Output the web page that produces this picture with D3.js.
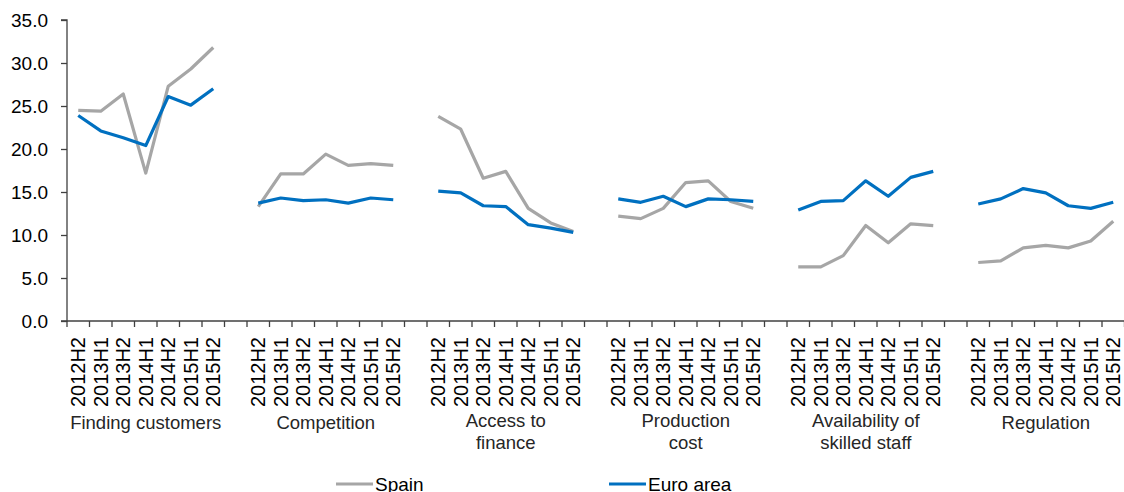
<!DOCTYPE html>
<html>
<head>
<meta charset="utf-8">
<script src="https://cdn.jsdelivr.net/npm/d3@7"></script>
<style>
  body { margin: 0; background: #fff; }
  svg { display: block; font-family: "Liberation Sans", Arial, sans-serif; }
  .axis path, .axis line { stroke: #404040; }
  .axis text { fill: #000; }
</style>
</head>
<body>
<div id="chart"></div>
<script>
// data
var categories = [
    ["Finding customers"],
    ["Competition"],
    ["Access to", "finance"],
    ["Production", "cost"],
    ["Availability of", "skilled staff"],
    ["Regulation"]
];
var periods = ["2012H2", "2013H1", "2013H2", "2014H1", "2014H2", "2015H1", "2015H2"];
var yTicks = [0, 5, 10, 15, 20, 25, 30, 35];

var spain = [
    [24.5, 24.4, 26.4, 17.2, 27.3, 29.3, 31.8],
    [13.3, 17.1, 17.1, 19.4, 18.1, 18.3, 18.1],
    [23.8, 22.3, 16.6, 17.4, 13.1, 11.4, 10.4],
    [12.2, 11.9, 13.1, 16.1, 16.3, 13.9, 13.1],
    [6.3, 6.3, 7.6, 11.1, 9.1, 11.3, 11.1],
    [6.8, 7.0, 8.5, 8.8, 8.5, 9.3, 11.6]
];
var euroArea = [
    [23.9, 22.1, 21.3, 20.4, 26.1, 25.1, 27.0],
    [13.7, 14.3, 14.0, 14.1, 13.7, 14.3, 14.1],
    [15.1, 14.9, 13.4, 13.3, 11.2, 10.8, 10.3],
    [14.2, 13.8, 14.5, 13.3, 14.2, 14.1, 13.9],
    [12.9, 13.9, 14.0, 16.3, 14.5, 16.7, 17.4],
    [13.6, 14.2, 15.4, 14.9, 13.4, 13.1, 13.8]
];

var series = [
    { name: "Spain", color: "#a6a6a6", values: spain },
    { name: "Euro area", color: "#0070c0", values: euroArea }
];

// size of the svg
var W = 1124, H = 492;
var plotLeft = 67, plotTop = 20, plotBottom = 321;
var slotsPerGroup = periods.length + 1;     // one empty slot between groups
var nSlots = categories.length * slotsPerGroup - 1;

var svg = d3.select('#chart')
    .append('svg')
    .attr('width', W)
    .attr('height', H);

var xScale = d3.scaleLinear()
    .domain([0, nSlots])
    .range([plotLeft, plotLeft + 22.5 * nSlots]);

var yScale = d3.scaleLinear()
    .domain([0, 35])
    .range([plotBottom, plotTop]);

function slotCenter(g, i) {
    return xScale(g * slotsPerGroup + i + 0.5);
}

// y axis
var yAxis = d3.axisLeft(yScale)
    .tickValues(yTicks)
    .tickFormat(d3.format(".1f"))
    .tickSize(6)
    .tickPadding(13);

svg.append('g')
    .attr('class', 'axis')
    .attr('transform', `translate(${plotLeft},0)`)
    .call(yAxis)
    .call(function (g) {
        g.select('.domain').attr('d', `M-6,${plotTop}H0V${plotBottom}H-6`).attr('stroke-width', 1.3);
        g.selectAll('line').attr('stroke-width', 1.3);
        g.selectAll('text').attr('font-size', 19).attr('font-family', '"Liberation Sans", Arial, sans-serif');
    });

// x axis: line and ticks between categories
var xg = svg.append('g').attr('class', 'axis');
xg.append('line')
    .attr('x1', plotLeft).attr('x2', W)
    .attr('y1', plotBottom).attr('y2', plotBottom)
    .attr('stroke-width', 1.3);

xg.selectAll('line.tick')
    .data(d3.range(0, nSlots + 1))
    .enter()
    .append('line')
    .attr('class', 'tick')
    .attr('x1', function (d) { return xScale(d); })
    .attr('x2', function (d) { return xScale(d); })
    .attr('y1', plotBottom)
    .attr('y2', plotBottom + 6)
    .attr('stroke-width', 1.3);

// period labels, rotated
var periodLabels = [];
categories.forEach(function (c, g) {
    periods.forEach(function (p, i) {
        periodLabels.push({ label: p, x: slotCenter(g, i) });
    });
});

xg.selectAll('text.period')
    .data(periodLabels)
    .enter()
    .append('text')
    .attr('class', 'period')
    .attr('transform', function (d) { return `translate(${d.x},${plotBottom + 16}) rotate(-90)`; })
    .attr('text-anchor', 'end')
    .attr('dy', '0.35em')
    .attr('font-size', 20)
    .attr('fill', '#000')
    .text(function (d) { return d.label; });

// category labels
var catText = svg.append('g').selectAll('text.cat')
    .data(categories)
    .enter()
    .append('text')
    .attr('class', 'cat')
    .attr('text-anchor', 'middle')
    .attr('font-size', 18.5)
    .attr('fill', '#262626')
    .attr('transform', function (d, g) {
        var cx = (slotCenter(g, 0) + slotCenter(g, periods.length - 1)) / 2;
        return `translate(${cx},${d.length > 1 ? 428 : 430})`;
    });

catText.selectAll('tspan')
    .data(function (d) { return d; })
    .enter()
    .append('tspan')
    .attr('x', 0)
    .attr('y', function (d, i) { return i * 22 - 1; })
    .text(function (d) { return d; });

// lines, one segment per category group
var line = d3.line()
    .x(function (d) { return d.x; })
    .y(function (d) { return yScale(d.v); });

series.forEach(function (s) {
    svg.append('g').selectAll('path')
        .data(s.values)
        .enter()
        .append('path')
        .attr('fill', 'none')
        .attr('stroke', s.color)
        .attr('stroke-width', 3.2)
        .attr('stroke-linejoin', 'round')
        .attr('d', function (vals, g) {
            return line(vals.map(function (v, i) { return { x: slotCenter(g, i), v: v }; }));
        });
});

// legend
var legendX = [336, 609];
var legend = svg.append('g').selectAll('g')
    .data(series)
    .enter()
    .append('g')
    .attr('transform', function (d, i) { return `translate(${legendX[i]},484)`; });

legend.append('line')
    .attr('x1', 0).attr('x2', 37)
    .attr('stroke', function (d) { return d.color; })
    .attr('stroke-width', 3.2);

legend.append('text')
    .attr('x', 39)
    .attr('dy', '0.36em')
    .attr('font-size', 19)
    .attr('fill', '#000')
    .text(function (d) { return d.name; });
</script>
</body>
</html>
